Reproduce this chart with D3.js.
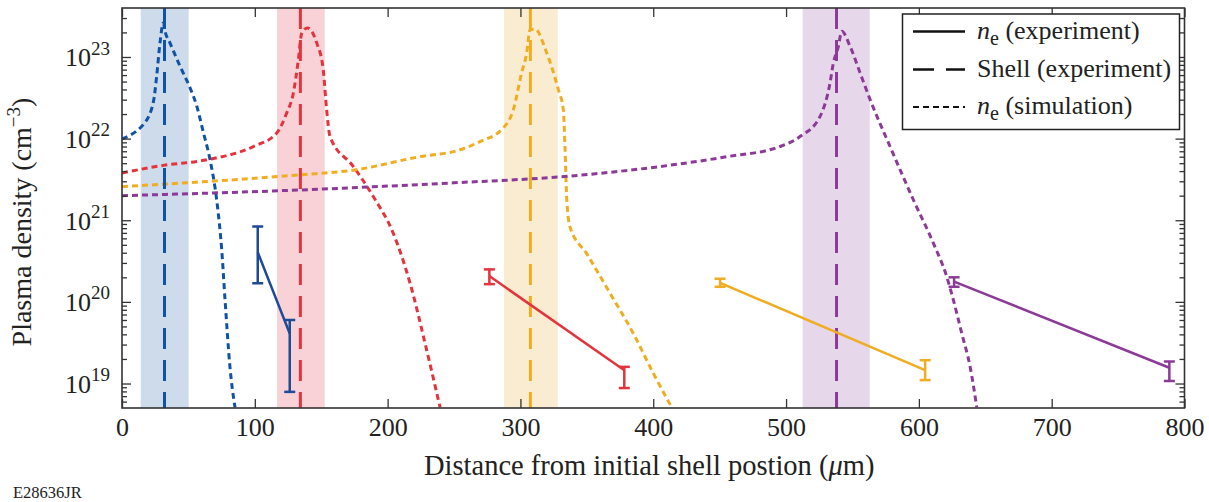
<!DOCTYPE html>
<html><head><meta charset="utf-8">
<script src="https://cdn.jsdelivr.net/npm/d3@7"></script>
<style>
body{margin:0;background:#fff}
svg{display:block}
text{font-family:"Liberation Serif","Times New Roman",serif;fill:#222}
</style>
</head><body><svg id="c" width="1209" height="502"></svg>
<script>
// ---------- data ----------
const xTicks = [0,100,200,300,400,500,600,700,800];
const yDecades = [19,20,21,22,23];
const seriesNames = ["blue","red","yellow","purple"];
const lineColors = ["#0f52a6","#e3343d","#efad22","#8c3a97"];
const expColors  = ["#1d4b98","#e3343d","#efad22","#8c3a97"];
const bandColors = ["#cddbeb","#f8d2d6","#faecd0","#e7d7ea"];
const shellPos = [32, 134.3, 307.5, 538];
const bandLo = [14.1, 116.7, 287.7, 512.5];
const bandHi = [50.2, 152.6, 328.1, 563];

const simBlueX = [0,13.6,16,23.6,26.1,28.6,31.1,32.4,36.1,43.7,51.2,56.3,61.2,66.3,71.3,75.1,77.6,81.3,85.1];
const simBlueY = [9.9e21,1.35e22,1.48e22,2.8e22,5.8e22,1.49e23,2.6e23,2.06e23,1.49e23,7.7e22,4.2e22,2.5e22,1.2e22,5.5e21,1.77e21,4.3e20,1.05e20,1.58e19,5.1e18];
const simRedX = [0,31.1,63.8,98.9,116.5,124,129,132.8,135.3,139.6,146.6,151.5,154.1,156.6,174.2,189.2,204.3,216.9,229.4,239.5];
const simRedY = [3.8e21,4.7e21,5.5e21,8.0e21,1.17e22,2.06e22,3.6e22,9.3e22,1.95e23,2.27e23,1.49e23,7.0e22,2.25e22,1.06e22,4.55e21,1.95e21,6.9e20,1.69e20,2.57e19,5.1e18];
const simYellowX = [0,134,174,224,254.5,269.6,287.1,294.6,300.9,304.7,307.2,311,319.8,328.5,332.3,333.6,334.9,337.3,349.9,367.5,385,400.1,413.9];
const simYellowY = [2.58e21,3.6e21,4.1e21,6.0e21,7.3e21,9.2e21,1.35e22,2.25e22,6.4e22,1.12e23,2.16e23,2.19e23,1.12e23,4.0e22,2.25e22,7.3e21,1.78e21,8.3e20,3.9e20,1.27e20,4.1e19,1.33e19,5.1e18];
const simPurpleX = [0,134,254.5,329.8,405.1,455.3,495.5,510.5,525.6,533.1,535.6,539.4,541.9,548.2,555.7,563.3,578.3,595.9,611,621,626,632.3,638.6,643.6];
const simPurpleY = [2.0e21,2.35e21,2.9e21,3.4e21,4.55e21,6.0e21,8.0e21,1.06e22,1.87e22,4.8e22,8.4e22,1.35e23,2.06e23,1.35e23,6.4e22,3.0e22,8.0e21,1.77e21,5.2e20,2.03e20,1.05e20,4.1e19,1.6e19,5.1e18];

const expBlueX = [102.2,126.3], expBlueY = [4.05e20,4.1e19], expBlueLo = [1.69e20,7.9e18], expBlueHi = [8.4e20,6.0e19];
const expRedX = [276.6,378.2], expRedY = [2.07e20,1.45e19], expRedLo = [1.65e20,8.8e18], expRedHi = [2.5e20,1.6e19];
const expYellowX = [450.3,604.7], expYellowY = [1.71e20,1.46e19], expYellowLo = [1.53e20,1.1e19], expYellowHi = [1.92e20,1.93e19];
const expPurpleX = [626.5,788.6], expPurpleY = [1.77e20,1.56e19], expPurpleLo = [1.53e20,1.07e19], expPurpleHi = [2.0e20,1.86e19];

const legendLabels = [["n","e"," (experiment)"],["","","Shell (experiment)"],["n","e"," (simulation)"]];

// ---------- layout ----------
const L = 122, R = 1184.5, T = 8, B = 408;
const svg = d3.select("#c");
const x = d3.scaleLinear().domain([0,800]).range([L,R]);
const y = d3.scaleLog().domain([Math.pow(10,18.7), Math.pow(10,23.6)]).range([B,T]);

const sims = [[simBlueX,simBlueY],[simRedX,simRedY],[simYellowX,simYellowY],[simPurpleX,simPurpleY]];
const exps = [[expBlueX,expBlueY,expBlueLo,expBlueHi],[expRedX,expRedY,expRedLo,expRedHi],
              [expYellowX,expYellowY,expYellowLo,expYellowHi],[expPurpleX,expPurpleY,expPurpleLo,expPurpleHi]];

svg.append("defs").append("clipPath").attr("id","clip")
  .append("rect").attr("x",L).attr("y",T).attr("width",R-L).attr("height",B-T);
const plot = svg.append("g").attr("clip-path","url(#clip)");

// bands
seriesNames.forEach((n,i)=>{
  plot.append("rect").attr("x",x(bandLo[i])).attr("y",T)
    .attr("width",x(bandHi[i])-x(bandLo[i])).attr("height",B-T)
    .attr("fill",bandColors[i]);
});

// simulation curves
const line = d3.line().x(d=>x(d[0])).y(d=>y(d[1])).curve(d3.curveMonotoneX);
sims.forEach((s,i)=>{
  const pts = s[0].map((v,j)=>[v,s[1][j]]);
  plot.append("path").attr("d",line(pts)).attr("fill","none")
    .attr("stroke",lineColors[i]).attr("stroke-width",3).attr("stroke-dasharray","6,4");
});

// shell dashed lines
seriesNames.forEach((n,i)=>{
  plot.append("line").attr("x1",x(shellPos[i])).attr("x2",x(shellPos[i]))
    .attr("y1",T).attr("y2",B).attr("stroke",lineColors[i]).attr("stroke-width",3)
    .attr("stroke-dasharray","21,11");
});

// experiment
exps.forEach((e,i)=>{
  const pts = e[0].map((v,j)=>[v,e[1][j]]);
  plot.append("path").attr("d",d3.line().x(d=>x(d[0])).y(d=>y(d[1]))(pts))
    .attr("fill","none").attr("stroke",expColors[i]).attr("stroke-width",2.5);
  e[0].forEach((v,j)=>{
    const g = plot.append("g").attr("stroke",expColors[i]).attr("stroke-width",2.5);
    g.append("line").attr("x1",x(v)).attr("x2",x(v)).attr("y1",y(e[2][j])).attr("y2",y(e[3][j]));
    [e[2][j],e[3][j]].forEach(c=>{
      g.append("line").attr("x1",x(v)-5.5).attr("x2",x(v)+5.5).attr("y1",y(c)).attr("y2",y(c));
    });
  });
});

// ---------- axes ----------
const minor = [];
for (let d=18; d<=23; d++) for (let k=2;k<=9;k++){ const v=k*Math.pow(10,d); if (v>=y.domain()[0] && v<=y.domain()[1]) minor.push(v); }
const major = yDecades.map(d=>Math.pow(10,d));
const axStyle = g => { g.selectAll(".domain").remove(); g.selectAll("line").attr("stroke","#333").attr("stroke-width",1.3); };

svg.append("g").attr("transform",`translate(0,${B})`)
  .call(d3.axisBottom(x).tickValues(xTicks).tickSize(-9).tickPadding(10).tickFormat(d3.format("d")))
  .call(axStyle).call(g=>g.selectAll("text").attr("font-size",26).attr("fill","#222").attr("font-family",'"Liberation Serif",serif'));
svg.append("g").attr("transform",`translate(0,${T})`)
  .call(d3.axisTop(x).tickValues(xTicks).tickSize(-9).tickFormat("")).call(axStyle);

const leftAx = svg.append("g").attr("transform",`translate(${L},0)`)
  .call(d3.axisLeft(y).tickValues(major).tickSize(-9).tickPadding(12).tickFormat(""))
  .call(axStyle);
leftAx.selectAll(".tick").each(function(d){
  const t = d3.select(this).select("text").attr("font-size",26).attr("fill","#222")
     .attr("font-family",'"Liberation Serif",serif').attr("dy","0.34em");
  t.append("tspan").text("10");
  t.append("tspan").attr("font-size",19).attr("dy","-0.62em").text(Math.round(Math.log10(d)));
});
svg.append("g").attr("transform",`translate(${L},0)`)
  .call(d3.axisLeft(y).tickValues(minor).tickSize(-5).tickFormat("")).call(axStyle);
svg.append("g").attr("transform",`translate(${R},0)`)
  .call(d3.axisRight(y).tickValues(major).tickSize(-9).tickFormat("")).call(axStyle);
svg.append("g").attr("transform",`translate(${R},0)`)
  .call(d3.axisRight(y).tickValues(minor).tickSize(-5).tickFormat("")).call(axStyle);

// frame
svg.append("rect").attr("x",L).attr("y",T).attr("width",R-L).attr("height",B-T)
  .attr("fill","none").attr("stroke","#333").attr("stroke-width",1.6);

// axis labels
svg.append("text").attr("x",(L+R)/2-4).attr("y",475).attr("text-anchor","middle")
  .attr("font-size",28.5).text("Distance from initial shell postion (")
  .call(t=>{t.append("tspan").attr("font-style","italic").text("\u03bc"); t.append("tspan").text("m)");});
const yl = svg.append("text").attr("transform","translate(31,222) rotate(-90)")
  .attr("text-anchor","middle").attr("font-size",28);
yl.append("tspan").text("Plasma density (cm");
yl.append("tspan").attr("font-size",19).attr("dy","-0.6em").text("\u22123");
yl.append("tspan").attr("dy","0.4em").text(")");

svg.append("text").attr("x",13).attr("y",498).attr("font-size",16.5).text("E28636JR");

// legend
const lg = svg.append("g");
lg.append("rect").attr("x",902.5).attr("y",14).attr("width",277).attr("height",115.5)
  .attr("fill","#fff").attr("stroke","#222").attr("stroke-width",1.5);
const dashes = [null,"21,12","6,4"];
const rowsY = [38.5,76.5,114];
legendLabels.forEach((lab,i)=>{
  lg.append("line").attr("x1",913).attr("x2",965).attr("y1",rowsY[i]-7).attr("y2",rowsY[i]-7)
    .attr("stroke","#111").attr("stroke-width",i===2?2.2:2.5).attr("stroke-dasharray",dashes[i]);
  const t = lg.append("text").attr("x",977).attr("y",rowsY[i]).attr("font-size",26);
  if (lab[0]) {
    t.append("tspan").attr("font-style","italic").text(lab[0]);
    t.append("tspan").attr("font-size",20).attr("dy",6).text(lab[1]);
    t.append("tspan").attr("dy",-6).text(lab[2]);
  } else t.append("tspan").text(lab[2]);
});
</script>
</body></html>
